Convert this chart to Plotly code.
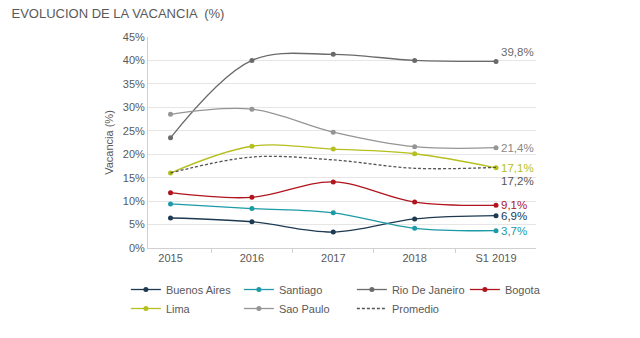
import plotly.graph_objects as go

years = ["2015", "2016", "2017", "2018", "S1 2019"]
buenos_aires = [6.4, 5.6, 3.4, 6.2, 6.9]
santiago = [9.4, 8.4, 7.5, 4.2, 3.7]
rio = [23.5, 40.0, 41.3, 40.0, 39.8]
bogota = [11.8, 10.8, 14.1, 9.8, 9.1]
lima = [16.0, 21.7, 21.1, 20.1, 17.1]
sao_paulo = [28.5, 29.6, 24.7, 21.6, 21.4]
promedio = [16.0, 19.4, 18.8, 17.0, 17.2]

series = [
    ("Buenos Aires", buenos_aires, "#1d3a52", "solid", True),
    ("Santiago", santiago, "#1c9aa6", "solid", True),
    ("Rio De Janeiro", rio, "#6a6a6a", "solid", True),
    ("Bogota", bogota, "#b0141c", "solid", True),
    ("Lima", lima, "#b5bf1e", "solid", True),
    ("Sao Paulo", sao_paulo, "#959595", "solid", True),
    ("Promedio", promedio, "#555555", "3px,2px", False),
]

fig = go.Figure()
for name, vals, color, dash, mk in series:
    fig.add_trace(go.Scatter(
        x=years, y=vals, name=name,
        mode="lines+markers" if mk else "lines",
        line=dict(color=color, width=1.3, shape="spline", dash=dash),
        marker=dict(color=color, size=5),
    ))

labels = [
    (rio, "#6a6a6a", 0, 9),
    (sao_paulo, "#888888", 0, 0),
    (lima, "#b5bf1e", 0, 0),
    (promedio, "#555555", 0, -14),
    (bogota, "#b0141c", 0, 0),
    (buenos_aires, "#1d3a52", 0, 0),
    (santiago, "#1c9aa6", 0, 0),
]
for vals, color, xs, ys in labels:
    v = vals[-1]
    fig.add_annotation(
        x=years[-1], y=v, text=f"{v:.1f}%".replace(".", ","),
        showarrow=False, xanchor="left", xshift=3 + xs, yshift=ys,
        font=dict(color=color, size=11.5),
    )

fig.update_layout(
    width=640, height=338,
    margin=dict(l=148, r=104, t=37, b=90, autoexpand=False),
    paper_bgcolor="white", plot_bgcolor="white",
    font=dict(family="Liberation Sans, Arial, sans-serif", color="#595959", size=11),
    title=dict(text="EVOLUCION DE LA VACANCIA  (%)", x=0.018, xanchor="left",
               y=0.96, yanchor="middle", font=dict(size=13, color="#595959")),
    showlegend=True,
    legend=dict(orientation="h", x=-0.057, xanchor="left", y=-0.128, yanchor="top",
                entrywidth=68, entrywidthmode="pixels", itemwidth=30,
                font=dict(size=11, color="#595959"), tracegroupgap=0),
    xaxis=dict(showline=True, linecolor="#d0d0d0", tickson="boundaries",
               ticks="outside", ticklen=4, tickcolor="#d0d0d0",
               showgrid=False, tickfont=dict(size=11)),
    yaxis=dict(range=[0, 45], dtick=5, ticksuffix="%", showgrid=True,
               gridcolor="#e6e6e6", showline=True, linecolor="#d0d0d0",
               zeroline=False, title=dict(text="Vacancia (%)", font=dict(size=11), standoff=6),
               tickfont=dict(size=11)),
)

fig.write_html("out.html")
